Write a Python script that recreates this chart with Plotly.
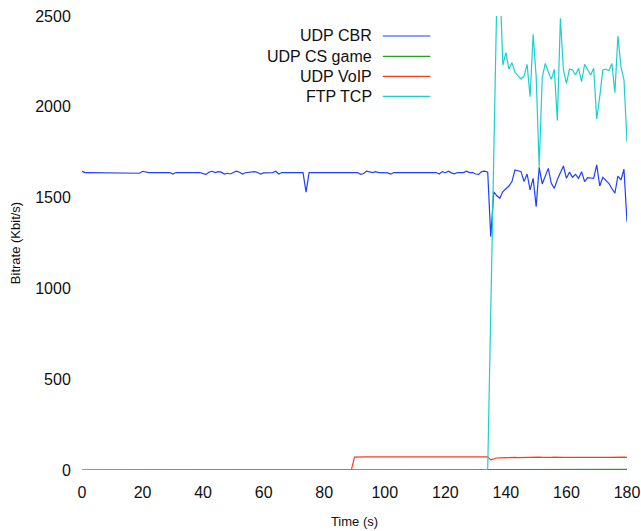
import plotly.graph_objects as go

# ---------------- data ----------------
time_s = list(range(0, 181))  # 1 s samples, 0..180

series_names = ["UDP CBR", "UDP CS game", "UDP VoIP", "FTP TCP"]
series_colors = ["#1f3fff", "#1fa21f", "#ff3a1a", "#1ccfcf"]

udp_cbr = [
    1645, 1638, 1638, 1638, 1638, 1638, 1638, 1638, 1638, 1638,
    1638, 1638, 1638, 1638, 1638, 1638, 1638, 1638, 1638, 1634,
    1645, 1641, 1638, 1638, 1638, 1638, 1638, 1638, 1638, 1638,
    1630, 1638, 1638, 1638, 1638, 1638, 1638, 1638, 1638, 1638,
    1632, 1628, 1641, 1645, 1638, 1643, 1640, 1630, 1634, 1630,
    1638, 1646, 1640, 1630, 1637, 1638, 1638, 1643, 1638, 1630,
    1636, 1638, 1638, 1638, 1645, 1630, 1638, 1638, 1638, 1638,
    1638, 1638, 1638, 1638, 1530, 1638, 1638, 1638, 1638, 1638,
    1638, 1638, 1638, 1638, 1638, 1638, 1638, 1638, 1638, 1638,
    1638, 1638, 1628, 1633, 1646, 1640, 1638, 1643, 1638, 1638,
    1637, 1636, 1630, 1638, 1638, 1638, 1638, 1638, 1638, 1638,
    1638, 1638, 1638, 1638, 1638, 1638, 1638, 1638, 1630, 1643,
    1637, 1645, 1636, 1631, 1638, 1638, 1638, 1645, 1638, 1638,
    1630, 1628, 1643, 1646, 1640, 1285, 1532, 1510, 1496, 1533,
    1548, 1564, 1588, 1652, 1648, 1643, 1588, 1630, 1542, 1606,
    1450, 1667, 1575, 1620, 1661, 1579, 1551, 1600, 1634, 1674,
    1606, 1640, 1612, 1628, 1606, 1643, 1588, 1610, 1608, 1606,
    1680, 1564, 1612, 1597, 1579, 1550, 1524, 1619, 1597, 1656,
    1367,
]

udp_cs_game = [
    0, 0, 0, 0, 0, 0, 0, 0, 0, 0,
    0, 0, 0, 0, 0, 0, 0, 0, 0, 0,
    0, 0, 0, 0, 0, 0, 0, 0, 0, 0,
    0, 0, 0, 0, 0, 0, 0, 0, 0, 0,
    0, 0, 0, 0, 0, 4, 4, 4, 4, 4,
    4, 4, 4, 4, 4, 4, 4, 4, 4, 4,
    4, 4, 4, 4, 4, 4, 4, 4, 4, 4,
    4, 4, 4, 4, 4, 4, 4, 4, 4, 4,
    4, 4, 4, 4, 4, 4, 4, 4, 4, 4,
    4, 4, 4, 4, 4, 4, 4, 4, 4, 4,
    4, 4, 4, 4, 4, 4, 4, 4, 4, 4,
    4, 4, 4, 4, 4, 4, 4, 4, 4, 4,
    4, 4, 4, 4, 4, 4, 4, 4, 4, 4,
    4, 4, 4, 4, 4, 4, 4, 4, 4, 4,
    4, 4, 4, 4, 4, 4, 4, 4, 4, 4,
    4, 4, 4, 4, 4, 4, 4, 4, 4, 4,
    4, 4, 4, 4, 4, 4, 4, 4, 4, 4,
    4, 4, 4, 4, 4, 4, 4, 4, 4, 4,
    3,
]

udp_voip = [
    0, 0, 0, 0, 0, 0, 0, 0, 0, 0,
    0, 0, 0, 0, 0, 0, 0, 0, 0, 0,
    0, 0, 0, 0, 0, 0, 0, 0, 0, 0,
    0, 0, 0, 0, 0, 0, 0, 0, 0, 0,
    0, 0, 0, 0, 0, 0, 0, 0, 0, 0,
    0, 0, 0, 0, 0, 0, 0, 0, 0, 0,
    0, 0, 0, 0, 0, 0, 0, 0, 0, 0,
    0, 0, 0, 0, 0, 0, 0, 0, 0, 0,
    0, 0, 0, 0, 0, 0, 0, 0, 2, 3,
    71, 72, 72, 72, 72, 72, 72, 72, 72, 72,
    72, 72, 72, 72, 72, 72, 72, 72, 72, 72,
    72, 72, 72, 72, 72, 72, 72, 72, 72, 72,
    72, 72, 72, 72, 72, 72, 72, 72, 72, 72,
    72, 72, 72, 72, 72, 56, 62, 66, 67, 68,
    68, 68, 69, 69, 68, 69, 70, 69, 68, 69,
    70, 71, 69, 68, 70, 69, 71, 69, 68, 69,
    70, 69, 70, 71, 69, 70, 69, 68, 69, 70,
    69, 70, 68, 70, 69, 70, 67, 70, 69, 71,
    70,
]

ftp_tcp = [
    0, 0, 0, 0, 0, 0, 0, 0, 0, 0,
    0, 0, 0, 0, 0, 0, 0, 0, 0, 0,
    0, 0, 0, 0, 0, 0, 0, 0, 0, 0,
    0, 0, 0, 0, 0, 0, 0, 0, 0, 0,
    0, 0, 0, 0, 0, 0, 0, 0, 0, 0,
    0, 0, 0, 0, 0, 0, 0, 0, 0, 0,
    0, 0, 0, 0, 0, 0, 0, 0, 0, 0,
    0, 0, 0, 0, 0, 0, 0, 0, 0, 0,
    0, 0, 0, 0, 0, 0, 0, 0, 0, 0,
    0, 0, 0, 0, 0, 0, 0, 0, 0, 0,
    0, 0, 0, 0, 0, 0, 0, 0, 0, 0,
    0, 0, 0, 0, 0, 0, 0, 0, 0, 0,
    0, 0, 0, 0, 0, 0, 0, 0, 0, 0,
    0, 0, 0, 0, 5, 850, 1700, 2600, 2700, 2230,
    2298, 2208, 2243, 2190, 2170, 2153, 2170, 2234, 2056, 2399,
    2166, 1670, 2160, 2239, 2193, 2151, 2206, 1924, 2487, 2203,
    2129, 2208, 2203, 2175, 2212, 2138, 2234, 2206, 2175, 2212,
    1933, 2056, 2203, 2208, 2199, 2239, 2078, 2390, 2221, 2148,
    1808,
]

x_ticks = [0, 20, 40, 60, 80, 100, 120, 140, 160, 180]
y_ticks = [0, 500, 1000, 1500, 2000, 2500]

# ---------------- figure ----------------
fig = go.Figure()
for name, vals, col in zip(series_names, [udp_cbr, udp_cs_game, udp_voip, ftp_tcp], series_colors):
    fig.add_trace(go.Scatter(x=time_s, y=vals, mode="lines", name=name,
                             line=dict(color=col, width=1.2), showlegend=False))

FONT = "Liberation Sans, Arial, sans-serif"

# right-aligned legend: text then line sample on its right
leg_y = [0.956, 0.911, 0.867, 0.823]
for name, col, yy in zip(series_names, series_colors, leg_y):
    fig.add_annotation(xref="paper", yref="paper", x=0.535, y=yy, text=name,
                       showarrow=False, xanchor="right", yanchor="middle",
                       font=dict(family=FONT, size=16, color="#111111"))
    fig.add_shape(type="line", xref="paper", yref="paper", x0=0.552, x1=0.639,
                  y0=yy, y1=yy, line=dict(color=col, width=1.2))

fig.update_layout(
    width=641, height=531,
    margin=dict(l=82, r=14, t=16, b=61),
    paper_bgcolor="white", plot_bgcolor="white",
    font=dict(family=FONT, size=16, color="#111111"),
    xaxis=dict(range=[0, 180], tickvals=x_ticks, showgrid=False, zeroline=False,
               showline=False, ticks="outside", ticklen=8, tickcolor="rgba(0,0,0,0)",
               tickfont=dict(size=16), automargin=False,
               title=dict(text="Time (s)", font=dict(size=13), standoff=16)),
    yaxis=dict(range=[0, 2500], tickvals=y_ticks, showgrid=False, zeroline=False,
               showline=False, ticks="outside", ticklen=7, tickcolor="rgba(0,0,0,0)",
               tickfont=dict(size=16), automargin=False,
               title=dict(text="Bitrate (Kbit/s)", font=dict(size=13), standoff=11)),
)

fig.write_html("out.html")
